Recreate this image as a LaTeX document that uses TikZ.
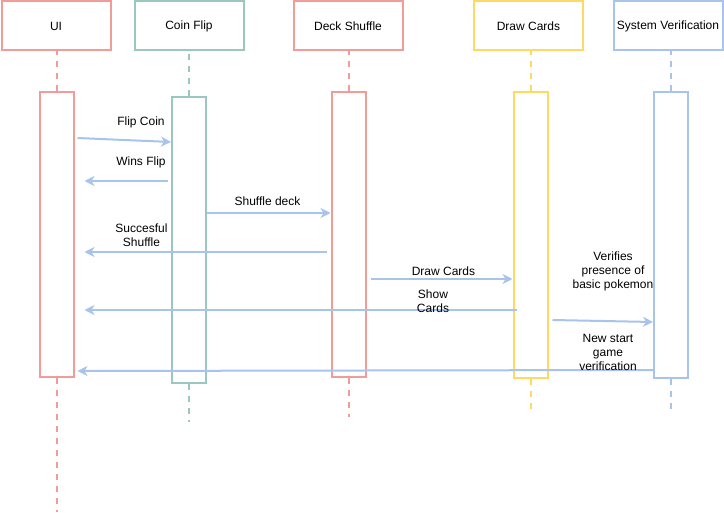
\documentclass[tikz,border=0pt]{standalone}
\usepackage{fontspec}
\setmainfont{Liberation Sans}
\usetikzlibrary{arrows.meta,calc}
\definecolor{softred}{HTML}{F19C99}
\definecolor{softgreen}{HTML}{9AC7BF}
\definecolor{softyellow}{HTML}{FFD966}
\definecolor{softblue}{HTML}{A9C4EB}
\tikzset{
  actor box/.style={
    rectangle, draw=#1, line width=2pt, fill=white,
    minimum width=109pt, minimum height=49pt, inner sep=0pt,
    font=\fontsize{12}{14}\selectfont
  },
  activation/.style={
    rectangle, draw=#1, line width=2pt, fill=white,
    minimum width=34pt, inner sep=0pt, anchor=north
  },
  life line/.style={draw=#1, line width=2pt, dash pattern=on 6pt off 6pt},
  message/.style={-{Stealth[length=10pt,width=10pt,inset=3pt]}, softblue, line width=2pt},
  msg label/.style={align=center, inner sep=0pt, font=\fontsize{12}{14}\selectfont}
}

\begin{document}
\begin{tikzpicture}[x=1pt,y=-1pt]
    \useasboundingbox (0,0) rectangle (724,513);
    % heads
    \node[actor box=softred]    (ui)    at (56,26)    {UI};
    \node[actor box=softgreen]  (coin)  at (189,26)   {Coin Flip};
    \node[actor box=softred]    (deck)  at (348,26)   {Deck Shuffle};
    \node[actor box=softyellow] (draw)  at (528.5,26) {Draw Cards};
    \node[actor box=softblue]   (sys)   at (668,26)   {System Verification};
    % activation bars
    \node[activation=softred, minimum height=285pt]    (uiact)   at (56.5,91)  {};
    \node[activation=softgreen, minimum height=286pt]  (coinact) at (189,96)   {};
    \node[activation=softred, minimum height=285pt]    (deckact) at (348.5,91) {};
    \node[activation=softyellow, minimum height=286pt] (drawact) at (530.5,91) {};
    \node[activation=softblue, minimum height=286pt]   (sysact)  at (671,91)   {};
    % lifelines
    \coordinate (uiend)   at (56.5,512);
    \coordinate (coinend) at (189,422);
    \coordinate (deckend) at (348.5,417);
    \coordinate (drawend) at (530.5,412);
    \coordinate (sysend)  at (671,412);
    \draw[life line=softred]    (uiact.north) -- (uiact.north |- ui.south);
    \draw[life line=softgreen]  (coinact.north) -- (coinact.north |- coin.south);
    \draw[life line=softred]    (deckact.north) -- (deckact.north |- deck.south);
    \draw[life line=softyellow] (drawact.north) -- (drawact.north |- draw.south);
    \draw[life line=softblue]   (sysact.north) -- (sysact.north |- sys.south);
    \draw[life line=softred]    (uiact.south) -- (uiend);
    \draw[life line=softgreen]  (coinact.south) -- (coinend);
    \draw[life line=softred]    (deckact.south) -- (deckend);
    \draw[life line=softyellow] (drawact.south) -- (drawend);
    \draw[life line=softblue]   (sysact.south) -- (sysend);
    % messages
    \draw[message] ($(uiact.east |- 0,138)+(3,0)$) -- (coinact.west |- 0,142);
    \draw[message] ($(coinact.west |- 0,181)+(-3,0)$) -- ($(uiact.east |- 0,181)+(10,0)$);
    \draw[message] (coinact.east |- 0,213) -- (deckact.west |- 0,213);
    \draw[message] ($(deckact.west |- 0,252)+(-4,0)$) -- ($(uiact.east |- 0,252)+(10,0)$);
    \draw[message] ($(deckact.east |- 0,279)+(4,0)$) -- (drawact.west |- 0,279);
    \draw[message] ($(drawact.west |- 0,310)+(4,0)$) -- ($(uiact.east |- 0,310)+(10,0)$);
    \draw[message] ($(drawact.east |- 0,320)+(4,0)$) -- (sysact.west |- 0,322);
    \draw[message] ($(sysact.west |- 0,370)+(1,0)$) -- ($(uiact.east |- 0,371)+(3,0)$);
    % message labels
    \node[msg label] (fliplbl)    at (141,122)   {Flip Coin};
    \node[msg label] (winslbl)    at (141,162)   {Wins Flip};
    \node[msg label] (shufflelbl) at (267.5,201) {Shuffle deck};
    \node[msg label] (successlbl) at (141.5,235) {Succesful\\Shuffle};
    \node[msg label] (drawlbl)    at (443.5,271.5) {Draw Cards};
    \node[msg label] (showlbl)    at (433,301)   {Show\\Cards};
    \node[msg label] (verifylbl)  at (613,271.5) {Verifies\\presence of\\basic pokemon};
    \node[msg label] (restartlbl) at (608,352)   {New start\\game\\verification};
  \end{tikzpicture}
\end{document}
